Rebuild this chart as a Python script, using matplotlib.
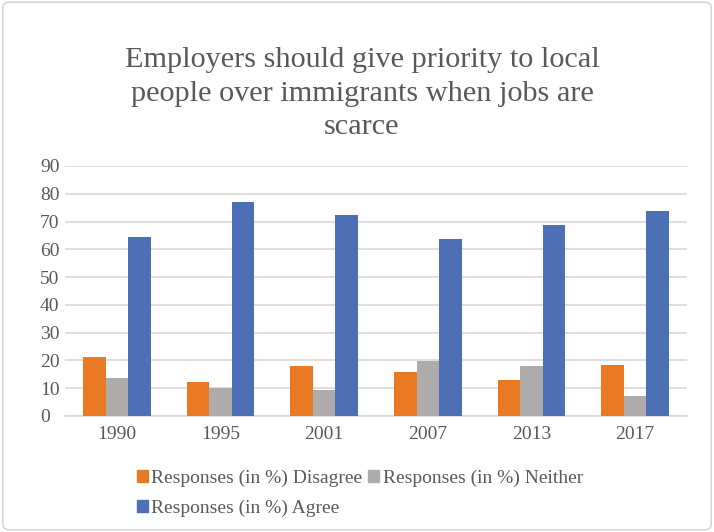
import numpy as np
import matplotlib.pyplot as plt
from matplotlib.patches import FancyBboxPatch, Patch

years = ["1990", "1995", "2001", "2007", "2013", "2017"]
disagree = [21.2, 12.3, 18.1, 15.9, 12.9, 18.3]
neither = [13.7, 10.0, 9.4, 19.9, 18.1, 7.3]
agree = [64.5, 77.1, 72.3, 63.9, 68.6, 73.9]

labels = ["Responses (in %) Disagree", "Responses (in %) Neither", "Responses (in %) Agree"]
colors = ["#E97A23", "#AEABAA", "#4C6FB5"]
text_col = "#595959"

plt.rcParams["font.family"] = ["Liberation Serif", "DejaVu Serif"]

fig = plt.figure(figsize=(7.14, 5.32), dpi=100)
ax = fig.add_axes([65 / 714, 1 - 416 / 532, 622 / 714, 250 / 532])

x = np.arange(len(years))
w = 0.218
for i, (vals, c) in enumerate(zip([disagree, neither, agree], colors)):
    ax.bar(x + (i - 1) * w, vals, w, color=c, zorder=3)

ax.set_xlim(-0.5, len(years) - 0.5)
ax.set_ylim(0, 90)
ax.set_yticks(range(0, 91, 10))
ax.set_xticks(x)
ax.set_xticklabels(years)
ax.grid(axis="y", color="#D9D9D9", linewidth=1.2, zorder=0)
for s in ["top", "right", "left"]:
    ax.spines[s].set_visible(False)
ax.spines["bottom"].set_color("#D9D9D9")
ax.spines["bottom"].set_linewidth(1.2)
ax.tick_params(length=0, labelsize=14, colors=text_col, pad=7)
ax.tick_params(axis="y", pad=18)
for t in ax.get_yticklabels():
    t.set_horizontalalignment("left")

fig.text(0.507, 0.911, "Employers should give priority to local\npeople over immigrants when jobs are\nscarce",
         ha="center", va="top", fontsize=21.8, color=text_col, linespacing=1.36)

handles = [Patch(color=colors[0]), Patch(color=colors[2]), Patch(color=colors[1])]
hl = [labels[0], labels[2], labels[1]]
fig.legend(handles, hl, ncol=2, loc="upper left", bbox_to_anchor=(0.178, 0.1355),
           frameon=False, fontsize=14, handlelength=0.55, handleheight=0.55,
           handletextpad=0.2, columnspacing=0.3, labelspacing=0.66,
           labelcolor=text_col, borderpad=0)

fig.patches.append(FancyBboxPatch((0.004, 0.004), 0.992, 0.992, boxstyle="round,pad=0,rounding_size=0.01",
                                  transform=fig.transFigure, fill=False, edgecolor="#D0D0D0", linewidth=1))

fig.savefig("out.png", dpi=100)
